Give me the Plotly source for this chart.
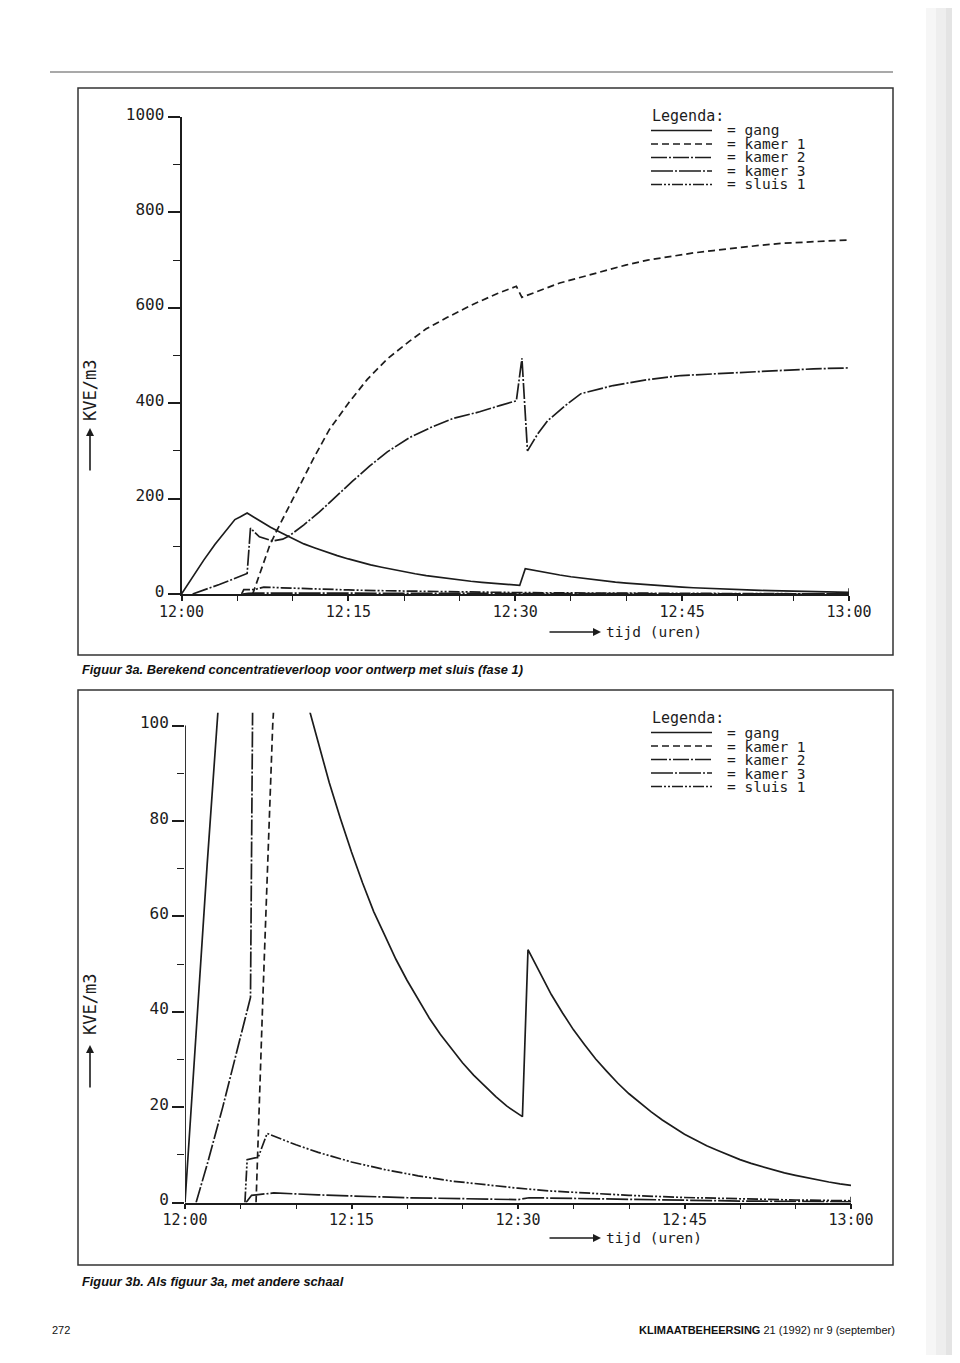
import plotly.graph_objects as go

# ---------------- data (minutes after 12:00, KVE/m3) ----------------
t_gang = [0, 1, 2, 3, 4, 4.8, 5.3, 5.9, 7, 8, 9, 10, 11, 12, 13, 14, 15, 16, 17, 18, 19, 20,
          21, 22, 23, 24, 25, 26, 27, 28, 29, 30, 30.4, 30.9, 32, 33, 34, 35, 36, 37, 38, 39,
          40, 41, 42, 43, 44, 45, 46, 47, 48, 49, 50, 51, 52, 53, 54, 55, 56, 57, 58, 59, 60]
v_gang = [0, 36, 71, 104, 134, 156, 162, 170, 154, 140, 128, 116, 105, 96.5, 88, 80.5, 73.5,
          67, 61, 56, 51, 46.6, 42.5, 38.7, 35.3, 32.2, 29.3, 26.7, 24.4, 22.2, 20.2, 18.5,
          18, 53, 47.9, 43.6, 39.8, 36.2, 33.1, 30.1, 27.5, 25.0, 22.8, 20.8, 19.0, 17.3,
          15.8, 14.3, 13.1, 11.9, 10.9, 9.9, 9.0, 8.2, 7.5, 6.9, 6.2, 5.7, 5.2, 4.7, 4.3,
          3.9, 3.6]

t_kamer1 = [6.4, 7.0, 7.9, 8.5, 9.9, 10.8, 12, 13.3, 15, 16.7, 18.5, 20.5, 22, 23.9, 26,
            28.4, 30.1, 30.6, 32, 34, 35.9, 38, 40, 41.9, 44, 46, 47.8, 50, 52, 53.9, 56,
            58, 60]
v_kamer1 = [0, 42, 100, 130, 195, 237, 290, 345, 400, 450, 493, 530, 556, 580, 605, 630,
            645, 622, 635, 652, 664, 678, 690, 700, 708, 715, 720, 726, 731, 735, 738, 740,
            742]

t_kamer2 = [1.0, 2.0, 3.4, 4.5, 5.7, 5.9, 6.2, 7.0, 8.2, 9.1, 9.7, 11, 12.4, 13.3, 15.4,
            16.9, 18.5, 20.5, 22.5, 24.4, 26.8, 28.6, 30.1, 30.6, 31.1, 32.0, 32.9, 34.5,
            35.9, 38.8, 41.5, 44.9, 47.5, 50.9, 54, 56.8, 60]
v_kamer2 = [0, 8, 20, 30, 41, 43, 138, 120, 111, 115, 122, 145, 172, 192, 237, 268, 298,
            328, 350, 368, 382, 395, 405, 494, 300, 335, 363, 395, 420, 437, 448, 458, 461,
            464, 468, 472, 474]

t_kamer3 = [5.5, 6.0, 8, 12, 20, 30, 31, 40, 50, 60]
v_kamer3 = [0, 1.5, 2.0, 1.6, 1.0, 0.6, 1.0, 0.6, 0.3, 0.15]

t_sluis1 = [5.4, 5.6, 6.6, 7.4, 9, 10, 12, 15, 18, 21, 24, 27, 30, 33, 36, 40, 45, 50, 55, 60]
v_sluis1 = [0, 9, 9.5, 14.5, 13.0, 12.1, 10.5, 8.5, 6.9, 5.6, 4.5, 3.7, 3.0, 2.4, 2.0, 1.5,
            1.05, 0.74, 0.52, 0.37]

series_names = ["gang", "kamer 1", "kamer 2", "kamer 3", "sluis 1"]
x_tick_vals = [0, 15, 30, 45, 60]
x_tick_text = ["12:00", "12:15", "12:30", "12:45", "13:00"]
y1_ticks = [0, 200, 400, 600, 800, 1000]
y2_ticks = [0, 20, 40, 60, 80, 100]

# ---------------- styling ----------------
# the page body has an 8px margin, so the figure is 16px smaller and all
# positions below are page pixels shifted by 8
OFF = 8
W, H = 960 - 2 * OFF, 1363 - 2 * OFF
INK = "#1c1c1c"
MONO = "DejaVu Sans Mono"
DASH = {"gang": "solid", "kamer 1": "7px,4px", "kamer 2": "16px,2px,2px,2px",
        "kamer 3": "22px,2px,2px,2px", "sluis 1": "11px,2px,2px,2px,2px,2px"}
data = {"gang": (t_gang, v_gang), "kamer 1": (t_kamer1, v_kamer1),
        "kamer 2": (t_kamer2, v_kamer2), "kamer 3": (t_kamer3, v_kamer3),
        "sluis 1": (t_sluis1, v_sluis1)}


def px(x):
    return (x - OFF) / W


def py(y):
    return 1 - (y - OFF) / H


fig = go.Figure()
for xa, ya in (("x", "y"), ("x2", "y2")):
    for name in series_names:
        tx, vy = data[name]
        fig.add_trace(go.Scatter(x=tx, y=vy, mode="lines", name=name, xaxis=xa, yaxis=ya,
                                 line=dict(color=INK, width=1.7, dash=DASH[name]),
                                 showlegend=False, hoverinfo="skip"))

common_x = dict(range=[0, 60], tickvals=x_tick_vals, ticktext=x_tick_text, ticks="outside",
                ticklen=5, tickwidth=1.5, tickcolor=INK, showline=True, linecolor=INK,
                linewidth=1.8, showgrid=False, zeroline=False, automargin=False,
                tickfont=dict(family=MONO, size=15, color=INK), ticklabelstandoff=-2,
                minor=dict(dtick=5, tick0=0, ticks="outside", ticklen=5, tickwidth=1.3,
                           tickcolor=INK, showgrid=False))
common_y = dict(ticks="outside", ticklen=12, tickwidth=1.5, tickcolor=INK, showgrid=False,
                zeroline=False, automargin=False, ticklabelshift=-3,
                tickfont=dict(family=MONO, size=16, color=INK))

fig.update_layout(
    template="none",
    width=W, height=H, margin=dict(l=0, r=0, t=0, b=0, pad=0, autoexpand=False),
    paper_bgcolor="white", plot_bgcolor="rgba(0,0,0,0)", showlegend=False,
    xaxis=dict(domain=[px(181.5), px(849)], anchor="y", **common_x),
    yaxis=dict(domain=[py(594), py(117)], anchor="x", range=[0, 1000], tickvals=y1_ticks,
               showline=True, linecolor=INK, linewidth=1.8,
               minor=dict(dtick=100, tick0=0, ticks="outside", ticklen=7, tickwidth=1.3,
                          tickcolor=INK, showgrid=False), **common_y),
    xaxis2=dict(domain=[px(185), px(851)], anchor="y2", **common_x),
    yaxis2=dict(domain=[py(1202.5), py(712.7)], anchor="x2", range=[0, 102.7],
                tickvals=y2_ticks, showline=False,
                minor=dict(dtick=10, tick0=0, ticks="outside", ticklen=7, tickwidth=1.3,
                           tickcolor=INK, showgrid=False), **common_y),
)

shapes = []
annotations = []

# page header rule
shapes.append(dict(type="line", xref="paper", yref="paper", x0=px(50), x1=px(893),
                   y0=py(72), y1=py(72), line=dict(color="#555", width=1.2)))
# scan shadow at the right page edge
for x0, x1, c in ((926, 936, "#f6f6f6"), (936, 946, "#eeeeee"), (946, 960, "#e4e4e4")):
    shapes.append(dict(type="rect", xref="paper", yref="paper", x0=px(x0), x1=px(x1),
                       y0=0, y1=1, line=dict(width=0), fillcolor=c, layer="below"))
# figure boxes
for top, bot in ((88, 655), (690, 1265)):
    shapes.append(dict(type="rect", xref="paper", yref="paper", x0=px(78), x1=px(893),
                       y0=py(bot), y1=py(top), line=dict(color="#333", width=1.5)))
# y axis line of chart 2 (stops at 100)
shapes.append(dict(type="line", xref="x2", yref="y2", x0=0, x1=0, y0=0, y1=100,
                   line=dict(color=INK, width=1.8)))
# small end ticks at 13:00
shapes.append(dict(type="line", xref="x", yref="y", x0=60, x1=60, y0=0, y1=12,
                   line=dict(color=INK, width=1.5)))
shapes.append(dict(type="line", xref="x2", yref="y2", x0=60, x1=60, y0=0, y1=1.2,
                   line=dict(color=INK, width=1.5)))

ROW = 13.5
legend_block = "<br>".join(
    "<span style='font-size:14.5px'>= " + n + "</span>" for n in series_names)

for off in (0, 602):
    annotations.append(dict(text="Legenda:", xref="paper", yref="paper", x=px(650),
                            y=py(116 + off), xanchor="left", yanchor="middle",
                            showarrow=False, font=dict(family=MONO, size=15, color=INK)))
    for i, name in enumerate(series_names):
        yy = 130.5 + i * ROW + off
        shapes.append(dict(type="line", xref="paper", yref="paper", x0=px(651), x1=px(712),
                           y0=py(yy), y1=py(yy),
                           line=dict(color=INK, width=1.6, dash=DASH[name])))
    annotations.append(dict(text=legend_block, xref="paper", yref="paper", x=px(725),
                            y=py(130.5 + 2 * ROW + off), xanchor="left", yanchor="middle",
                            align="left", showarrow=False,
                            font=dict(family=MONO, size=ROW / 1.3, color=INK)))
    # y title with arrow
    yc = 391 if off == 0 else 1005
    annotations.append(dict(text="KVE/m3", xref="paper", yref="paper", x=px(90), y=py(yc),
                            textangle=-90, showarrow=False, xanchor="center",
                            yanchor="middle", font=dict(family=MONO, size=17, color=INK)))
    head = 428 if off == 0 else 1045
    annotations.append(dict(text="", xref="paper", yref="paper", x=px(90), y=py(head),
                            ax=0, ay=44, showarrow=True, arrowhead=2, arrowsize=1,
                            arrowwidth=1.6, arrowcolor=INK))
    # x title with arrow
    xy = 632 if off == 0 else 1238
    annotations.append(dict(text="", xref="paper", yref="paper", x=px(601), y=py(xy),
                            ax=-53, ay=0, showarrow=True, arrowhead=2, arrowsize=1,
                            arrowwidth=1.6, arrowcolor=INK))
    annotations.append(dict(text="tijd (uren)", xref="paper", yref="paper", x=px(604),
                            y=py(xy), xanchor="left", yanchor="middle", showarrow=False,
                            font=dict(family=MONO, size=14.5, color=INK)))

# captions and footer
CAP = dict(family="Liberation Sans", size=12.8, color="#111")
annotations.append(dict(text="<b><i>Figuur 3a. Berekend concentratieverloop voor ontwerp met sluis (fase 1)</i></b>",
                        xref="paper", yref="paper", x=px(80), y=py(669), xanchor="left",
                        yanchor="middle", showarrow=False, font=CAP))
annotations.append(dict(text="<b><i>Figuur 3b. Als figuur 3a, met andere schaal</i></b>",
                        xref="paper", yref="paper", x=px(80), y=py(1281), xanchor="left",
                        yanchor="middle", showarrow=False, font=CAP))
annotations.append(dict(text="272", xref="paper", yref="paper", x=px(50), y=py(1330),
                        xanchor="left", yanchor="middle", showarrow=False,
                        font=dict(family="Liberation Sans", size=11, color="#111")))
annotations.append(dict(text="<b>KLIMAATBEHEERSING</b> 21 (1992) nr 9 (september)",
                        xref="paper", yref="paper", x=px(897), y=py(1330), xanchor="right",
                        yanchor="middle", showarrow=False,
                        font=dict(family="Liberation Sans", size=11, color="#111")))

fig.update_layout(shapes=shapes, annotations=annotations)
fig.write_html("out.html")
